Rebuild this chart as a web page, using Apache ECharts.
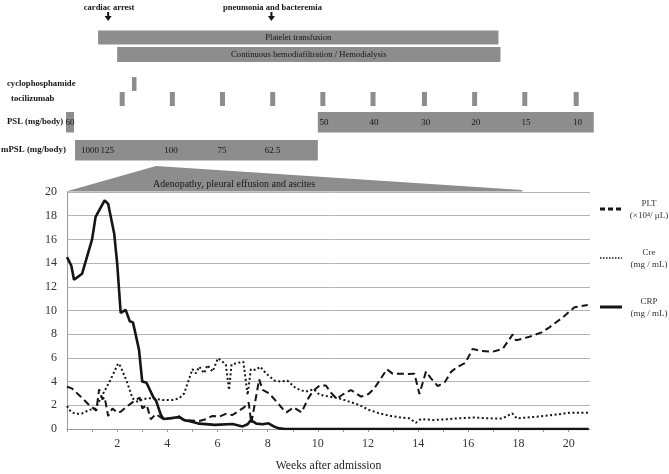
<!DOCTYPE html>
<html>
<head>
<meta charset="utf-8">
<script src="https://cdn.jsdelivr.net/npm/echarts@6/dist/echarts.min.js"></script>
<style>
  html, body { margin: 0; padding: 0; background: #fff; }
  #chart { width: 669px; height: 474px; }
</style>
</head>
<body>
<div id="chart"></div>
<script>
// ---- data (weeks after admission) ----
var weekTicks = [2, 4, 6, 8, 10, 12, 14, 16, 18, 20];
var valueTicks = [0, 2, 4, 6, 8, 10, 12, 14, 16, 18, 20];

var pltValues = [
  [0, 3.57], [0.19, 3.43], [0.55, 2.73], [0.88, 2.03], [1.17, 1.55], [1.28, 3.35], [1.41, 2.5],
  [1.5, 2.7], [1.64, 1.1], [1.81, 1.74], [2.0, 1.38], [2.14, 1.46], [2.41, 1.94], [2.74, 2.45],
  [2.9, 2.64], [3.0, 1.74], [3.18, 2.03], [3.34, 0.82], [3.54, 1.25], [3.8, 0.9], [4.2, 0.9],
  [4.47, 1.07], [4.67, 0.76], [5.27, 0.68], [5.53, 0.82], [5.8, 1.1], [6.07, 1.04], [6.33, 1.27],
  [6.6, 1.18], [6.86, 1.55], [7.06, 1.83], [7.24, 2.25], [7.35, 0.5], [7.66, 4.19], [7.8, 3.3],
  [8.06, 3.0], [8.35, 2.31], [8.6, 1.7], [8.75, 1.4], [9.03, 1.83], [9.35, 1.4], [9.62, 2.6],
  [9.82, 3.23], [10.06, 3.65], [10.32, 3.67], [10.55, 3.0], [10.75, 2.55], [11.02, 2.95],
  [11.32, 3.29], [11.72, 2.73], [12.02, 2.95], [12.25, 3.43], [12.52, 4.28], [12.75, 5.04],
  [12.98, 4.67], [13.6, 4.65], [13.85, 4.67], [14.05, 2.95], [14.31, 4.84], [14.51, 4.28],
  [14.78, 3.62], [15.06, 3.95], [15.32, 4.84], [15.58, 5.26], [15.88, 5.57], [16.17, 6.76],
  [16.44, 6.61], [16.97, 6.52], [17.37, 6.76], [17.77, 7.98], [17.9, 7.48], [18.44, 7.79],
  [18.9, 8.13], [19.23, 8.58], [19.77, 9.43], [20.23, 10.27], [20.76, 10.46]
];

var creValues = [
  [0, 1.94], [0.15, 1.46], [0.35, 1.27], [0.61, 1.32], [0.88, 1.6], [1.14, 1.74], [1.34, 2.59],
  [1.7, 4.0], [2.04, 5.54], [2.14, 5.26], [2.41, 3.86], [2.61, 2.59], [2.81, 2.31], [3.0, 2.5],
  [3.2, 2.59], [3.4, 2.59], [3.8, 2.45], [4.2, 2.45], [4.47, 2.59], [4.67, 3.0], [5.0, 5.05],
  [5.14, 4.7], [5.27, 5.26], [5.47, 4.7], [5.6, 5.4], [5.8, 4.84], [6.02, 5.97], [6.2, 5.68],
  [6.33, 5.45], [6.46, 3.29], [6.56, 5.45], [7.03, 5.68], [7.2, 2.87], [7.33, 5.05], [7.53, 4.98],
  [7.7, 5.26], [7.93, 4.7], [8.26, 4.1], [8.53, 4.0], [8.79, 4.08], [9.13, 3.43], [9.5, 3.15],
  [9.85, 3.35], [10.06, 2.9], [10.45, 2.73], [10.85, 2.59], [11.25, 2.31], [11.65, 2.03],
  [12.05, 1.6], [12.45, 1.32], [12.85, 1.12], [13.25, 0.99], [13.65, 0.9], [13.91, 0.53],
  [14.11, 0.84], [14.58, 0.76], [15.11, 0.82], [15.58, 0.9], [16.17, 0.97], [16.8, 0.9],
  [17.35, 0.88], [17.75, 1.32], [17.93, 0.9], [18.5, 1.0], [19.05, 1.1], [19.6, 1.25],
  [20.1, 1.38], [20.8, 1.38]
];

var crpValues = [
  [0, 14.5], [0.17, 13.8], [0.28, 12.6], [0.6, 13.1], [1.0, 16.0], [1.14, 17.9], [1.5, 19.3],
  [1.64, 19.0], [1.88, 16.5], [2.0, 14.0], [2.14, 9.8], [2.34, 10.05], [2.5, 9.1], [2.63, 9.0],
  [2.87, 6.7], [3.0, 4.0], [3.17, 3.9], [3.45, 2.65], [3.55, 2.4], [3.74, 1.2], [3.85, 0.85],
  [4.1, 0.9], [4.47, 1.0], [4.67, 0.75], [4.9, 0.65], [5.27, 0.45], [5.9, 0.35], [6.6, 0.42],
  [7.0, 0.22], [7.2, 0.4], [7.33, 0.75], [7.55, 0.45], [7.8, 0.4], [8.03, 0.48], [8.26, 0.2],
  [8.46, 0.05], [8.7, 0], [10, 0], [12, 0], [14, 0], [16, 0], [18, 0], [20.8, 0]
];

var legendNames = ['PLT', 'Cre', 'CRP'];
var legendUnits = ['(×10⁴/ μL)', '(mg / mL)', '(mg / mL)'];

// timeline (weeks)
var eventNames = ['cardiac arrest', 'pneumonia and bacteremia'];
var eventWeeks = [1.64, 8.15];
var plateletTransfusion = [[1.24, 17.2]];
var hemodialysis = [[2.0, 17.28]];
var cyclophosphamideDoses = [2.68];
var tocilizumabDoses = [2.2, 4.2, 6.2, 8.2, 10.2, 12.2, 14.25, 16.25, 18.25, 20.3];
var pslCourse = [[-0.04, 0.28], [10.0, 21.0]];
var pslDoseLabels = ['60', '50', '40', '30', '20', '15', '10'];
var pslDoseWeeks = [0.12, 10.25, 12.24, 14.3, 16.3, 18.3, 20.35];
var mpslCourse = [[0.32, 10.0]];
var mpslDoseLabels = ['1000', '125', '100', '75', '62.5'];
var mpslDoseWeeks = [0.92, 1.6, 4.15, 6.18, 8.2];
var adenopathyWeeks = [-0.04, 3.55, 18.15]; // onset, maximum, resolution

// ---- layout / style ----
var SERIF = '"Liberation Serif", "Times New Roman", serif';
var GRAY = '#8d8d8d';
var INK = '#151515';
var rows = {
  event: 7.5, arrowTop: 12, arrowBottom: 21,
  platelet: [30.5, 44.5], chdf: [47, 62], cyclo: [77, 91], toci: [92, 106],
  psl: [112, 132.5], mpsl: [140, 160.5], adenoBase: 191.5, adenoPeak: 166, adenoEnd: 190
};
var legendY = [209, 258, 307];

function barSeries(items, band, label) {
  return {
    type: 'custom', xAxisIndex: 1, yAxisIndex: 1, silent: true,
    data: items,
    renderItem: function (params, api) {
      var p0 = api.coord([api.value(0), band[0]]);
      var p1 = api.coord([api.value(1), band[1]]);
      var children = [{
        type: 'rect',
        shape: { x: p0[0], y: p0[1], width: p1[0] - p0[0], height: p1[1] - p0[1] },
        style: { fill: GRAY }
      }];
      if (label) {
        children.push({
          type: 'text',
          style: {
            text: label, x: (p0[0] + p1[0]) / 2, y: (p0[1] + p1[1]) / 2,
            font: '8.6px ' + SERIF, fill: INK,
            textAlign: 'center', textVerticalAlign: 'middle', align: 'center', verticalAlign: 'middle'
          }
        });
      }
      return { type: 'group', children: children };
    }
  };
}

function tickSeries(weeks, band, w) {
  return {
    type: 'custom', xAxisIndex: 1, yAxisIndex: 1, silent: true,
    data: weeks,
    renderItem: function (params, api) {
      var p0 = api.coord([api.value(0), band[0]]);
      var p1 = api.coord([api.value(0), band[1]]);
      return { type: 'rect', shape: { x: p0[0] - w / 2, y: p0[1], width: w, height: p1[1] - p0[1] }, style: { fill: GRAY } };
    }
  };
}

function doseSeries(weeks, labels, y) {
  return {
    type: 'custom', xAxisIndex: 1, yAxisIndex: 1, silent: true, z: 5,
    data: weeks,
    renderItem: function (params, api) {
      var p = api.coord([api.value(0), y]);
      return {
        type: 'text',
        style: {
          text: labels[params.dataIndex], x: p[0], y: p[1],
          font: '9px ' + SERIF, fill: INK,
          textAlign: 'center', textVerticalAlign: 'middle', align: 'center', verticalAlign: 'middle'
        }
      };
    }
  };
}

var lineStyles = [
  { color: INK, width: 2, type: [7, 4] },
  { color: INK, width: 2, type: [2, 2.5] },
  { color: INK, width: 2.6, type: 'solid' }
];
var legendDash = [[5, 3], [1.5, 1.5], null];
var legendWidth = [3, 1.6, 3];

var graphics = [
  { type: 'text', left: 7, top: 79, style: { text: 'cyclophosphamide', font: 'bold 8.7px ' + SERIF, fill: INK } },
  { type: 'text', left: 11, top: 94, style: { text: 'tocilizumab', font: 'bold 8.7px ' + SERIF, fill: INK } },
  { type: 'text', left: 7, top: 117, style: { text: 'PSL (mg/body)', font: 'bold 8.7px ' + SERIF, fill: INK } },
  { type: 'text', left: 1, top: 145, style: { text: 'mPSL (mg/body)', font: 'bold 8.9px ' + SERIF, fill: INK } }
];
legendNames.forEach(function (name, i) {
  graphics.push({
    type: 'line', shape: { x1: 600, y1: legendY[i], x2: 622, y2: legendY[i] },
    style: { stroke: INK, lineWidth: legendWidth[i], lineDash: legendDash[i] }
  });
  graphics.push({
    type: 'text', x: 649, y: legendY[i] - 5.5,
    style: { text: name, font: '9px ' + SERIF, fill: '#333', align: 'center', verticalAlign: 'middle' }
  });
  graphics.push({
    type: 'text', x: 649, y: legendY[i] + 6.5,
    style: { text: legendUnits[i], font: '9px ' + SERIF, fill: '#333', align: 'center', verticalAlign: 'middle' }
  });
});

var chart = echarts.init(document.getElementById('chart'));

chart.setOption({
  backgroundColor: '#fff',
  animation: false,
  grid: [
    { left: 67, right: 79, top: 192, bottom: 45 },
    { left: 67, right: 79, top: 0, height: 192 }
  ],
  xAxis: [{
    type: 'value', gridIndex: 0, min: 0, max: 20.85, interval: 1,
    name: 'Weeks after admission', nameLocation: 'middle', nameGap: 31,
    nameTextStyle: { fontFamily: SERIF, fontSize: 11.7, color: '#222' },
    axisLine: { show: true, lineStyle: { color: '#9a9a9a', width: 1 } },
    axisTick: { show: true, length: 3, lineStyle: { color: '#9a9a9a' } },
    splitLine: { show: false },
    axisLabel: {
      fontFamily: SERIF, fontSize: 12, color: '#333', margin: 9,
      showMaxLabel: false,
      formatter: function (v) { return weekTicks.indexOf(v) >= 0 ? String(v) : ''; }
    }
  }, {
    type: 'value', gridIndex: 1, min: 0, max: 20.85, show: false
  }],
  yAxis: [{
    type: 'value', gridIndex: 0, min: valueTicks[0], max: valueTicks[valueTicks.length - 1], interval: 2,
    axisLine: { show: true, lineStyle: { color: '#9a9a9a' } },
    axisTick: { show: false },
    splitLine: { lineStyle: { color: '#b4b4b4', width: 1 } },
    axisLabel: { fontFamily: SERIF, fontSize: 12, color: '#333', margin: 10 }
  }, {
    type: 'value', gridIndex: 1, min: 0, max: 192, inverse: true, show: false
  }],
  graphic: graphics,
  series: [
    { name: 'PLT', type: 'line', data: pltValues, symbol: 'none', z: 4, lineStyle: lineStyles[0] },
    { name: 'Cre', type: 'line', data: creValues, symbol: 'none', z: 3, lineStyle: lineStyles[1] },
    { name: 'CRP', type: 'line', data: crpValues, symbol: 'none', z: 5, lineStyle: lineStyles[2] },
    // adenopathy wedge
    {
      type: 'custom', xAxisIndex: 1, yAxisIndex: 1, silent: true,
      data: [adenopathyWeeks],
      renderItem: function (params, api) {
        var a = api.coord([api.value(0), rows.adenoBase]);
        var b = api.coord([api.value(1), rows.adenoPeak]);
        var c = api.coord([api.value(2), rows.adenoEnd]);
        var d = api.coord([api.value(2), rows.adenoBase]);
        var t = api.coord([6.66, 184]);
        return {
          type: 'group', children: [
            { type: 'polygon', shape: { points: [a, b, c, d] }, style: { fill: GRAY } },
            { type: 'text', style: { text: 'Adenopathy, pleural effusion and ascites', x: t[0], y: t[1],
              font: '10px ' + SERIF, fill: INK, textAlign: 'center', textVerticalAlign: 'middle',
              align: 'center', verticalAlign: 'middle' } }
          ]
        };
      }
    },
    barSeries(plateletTransfusion, rows.platelet, 'Platelet transfusion'),
    barSeries(hemodialysis, rows.chdf, 'Continuous hemodiafiltration / Hemodialysis'),
    tickSeries(cyclophosphamideDoses, rows.cyclo, 4.5),
    tickSeries(tocilizumabDoses, rows.toci, 5),
    barSeries(pslCourse, rows.psl, null),
    barSeries(mpslCourse, rows.mpsl, null),
    doseSeries(pslDoseWeeks, pslDoseLabels, (rows.psl[0] + rows.psl[1]) / 2),
    doseSeries(mpslDoseWeeks, mpslDoseLabels, (rows.mpsl[0] + rows.mpsl[1]) / 2),
    // events with arrows
    {
      type: 'custom', xAxisIndex: 1, yAxisIndex: 1, silent: true,
      data: eventWeeks,
      renderItem: function (params, api) {
        var top = api.coord([api.value(0), rows.arrowTop]);
        var bot = api.coord([api.value(0), rows.arrowBottom]);
        var txt = api.coord([api.value(0), rows.event]);
        var x = top[0];
        return {
          type: 'group', children: [
            { type: 'text', style: { text: eventNames[params.dataIndex], x: x + 1, y: txt[1],
              font: 'bold 8.5px ' + SERIF, fill: INK, textAlign: 'center', textVerticalAlign: 'middle',
              align: 'center', verticalAlign: 'middle' } },
            { type: 'rect', shape: { x: x - 1, y: top[1], width: 2, height: bot[1] - top[1] - 4 }, style: { fill: INK } },
            { type: 'polygon', shape: { points: [[x - 3.5, bot[1] - 5], [x + 3.5, bot[1] - 5], [x, bot[1]]] }, style: { fill: INK } }
          ]
        };
      }
    }
  ]
});
</script>
</body>
</html>
